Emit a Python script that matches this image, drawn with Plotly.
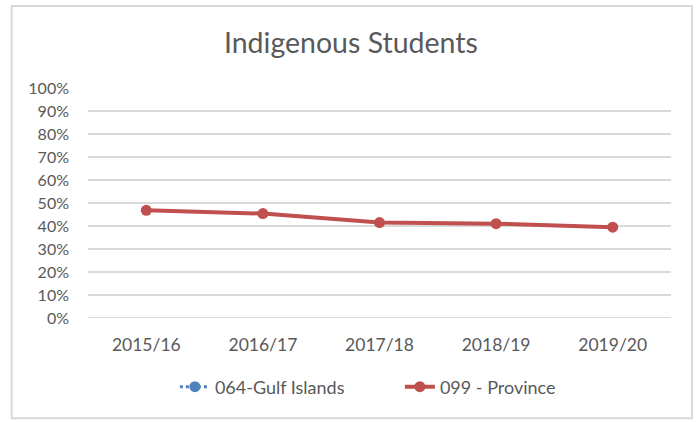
import plotly.graph_objects as go

# chart data
years = ["2015/16", "2016/17", "2017/18", "2018/19", "2019/20"]
gulf_islands = [None, None, None, None, None]
province = [0.468, 0.454, 0.415, 0.410, 0.395]
y_ticks = [i / 10 for i in range(11)]
y_tick_labels = [f"{i * 10}%" for i in range(11)]

font_family = "Lato, 'Open Sans', sans-serif"
text_color = "#595959"
grid_color = "#D9D9D9"

fig = go.Figure()
fig.add_trace(
    go.Scatter(
        x=years,
        y=gulf_islands,
        name="064-Gulf Islands",
        mode="lines+markers",
        line=dict(color="#4F81BD", width=3, dash="dot"),
        marker=dict(color="#4F81BD", size=11),
    )
)
fig.add_trace(
    go.Scatter(
        x=years,
        y=province,
        name="099 - Province",
        mode="lines+markers",
        line=dict(color="#C0504D", width=4),
        marker=dict(color="#C0504D", size=11),
    )
)

fig.update_layout(
    width=699,
    height=422,
    margin=dict(l=88, r=28, t=88, b=104),
    paper_bgcolor="white",
    plot_bgcolor="white",
    font=dict(family=font_family, color=text_color, size=17),
    title=dict(
        text="Indigenous Students",
        font=dict(size=28.5, color=text_color),
        x=0.502,
        xanchor="center",
        y=0.898,
        yanchor="middle",
    ),
    legend=dict(
        orientation="h",
        x=0.535,
        xanchor="center",
        y=-0.30,
        yanchor="middle",
        font=dict(size=18),
        entrywidth=180,
        entrywidthmode="pixels",
    ),
    showlegend=True,
    hovermode=False,
)
fig.update_xaxes(
    type="category",
    range=[-0.5, len(years) - 0.5],
    showgrid=False,
    showline=False,
    zeroline=False,
    ticks="",
    ticklabelstandoff=14,
    tickfont=dict(size=17.5),
)
fig.update_yaxes(
    range=[0, 1],
    tickvals=y_ticks,
    ticktext=y_tick_labels,
    showgrid=True,
    gridcolor=grid_color,
    gridwidth=2,
    zeroline=False,
    showline=False,
    ticks="",
    ticklabelstandoff=18,
    tickfont=dict(size=16),
)
fig.add_hline(y=0, line=dict(color=grid_color, width=2), layer="below")

# outer chart border
fig.add_shape(
    type="rect",
    xref="paper",
    yref="paper",
    x0=-0.131,
    x1=1.036,
    y0=-0.436,
    y1=1.357,
    line=dict(color=grid_color, width=2),
    layer="below",
)

fig.write_html(
    "out.html",
    config={"displayModeBar": False},
    post_script="document.body.style.margin='0';",
)
